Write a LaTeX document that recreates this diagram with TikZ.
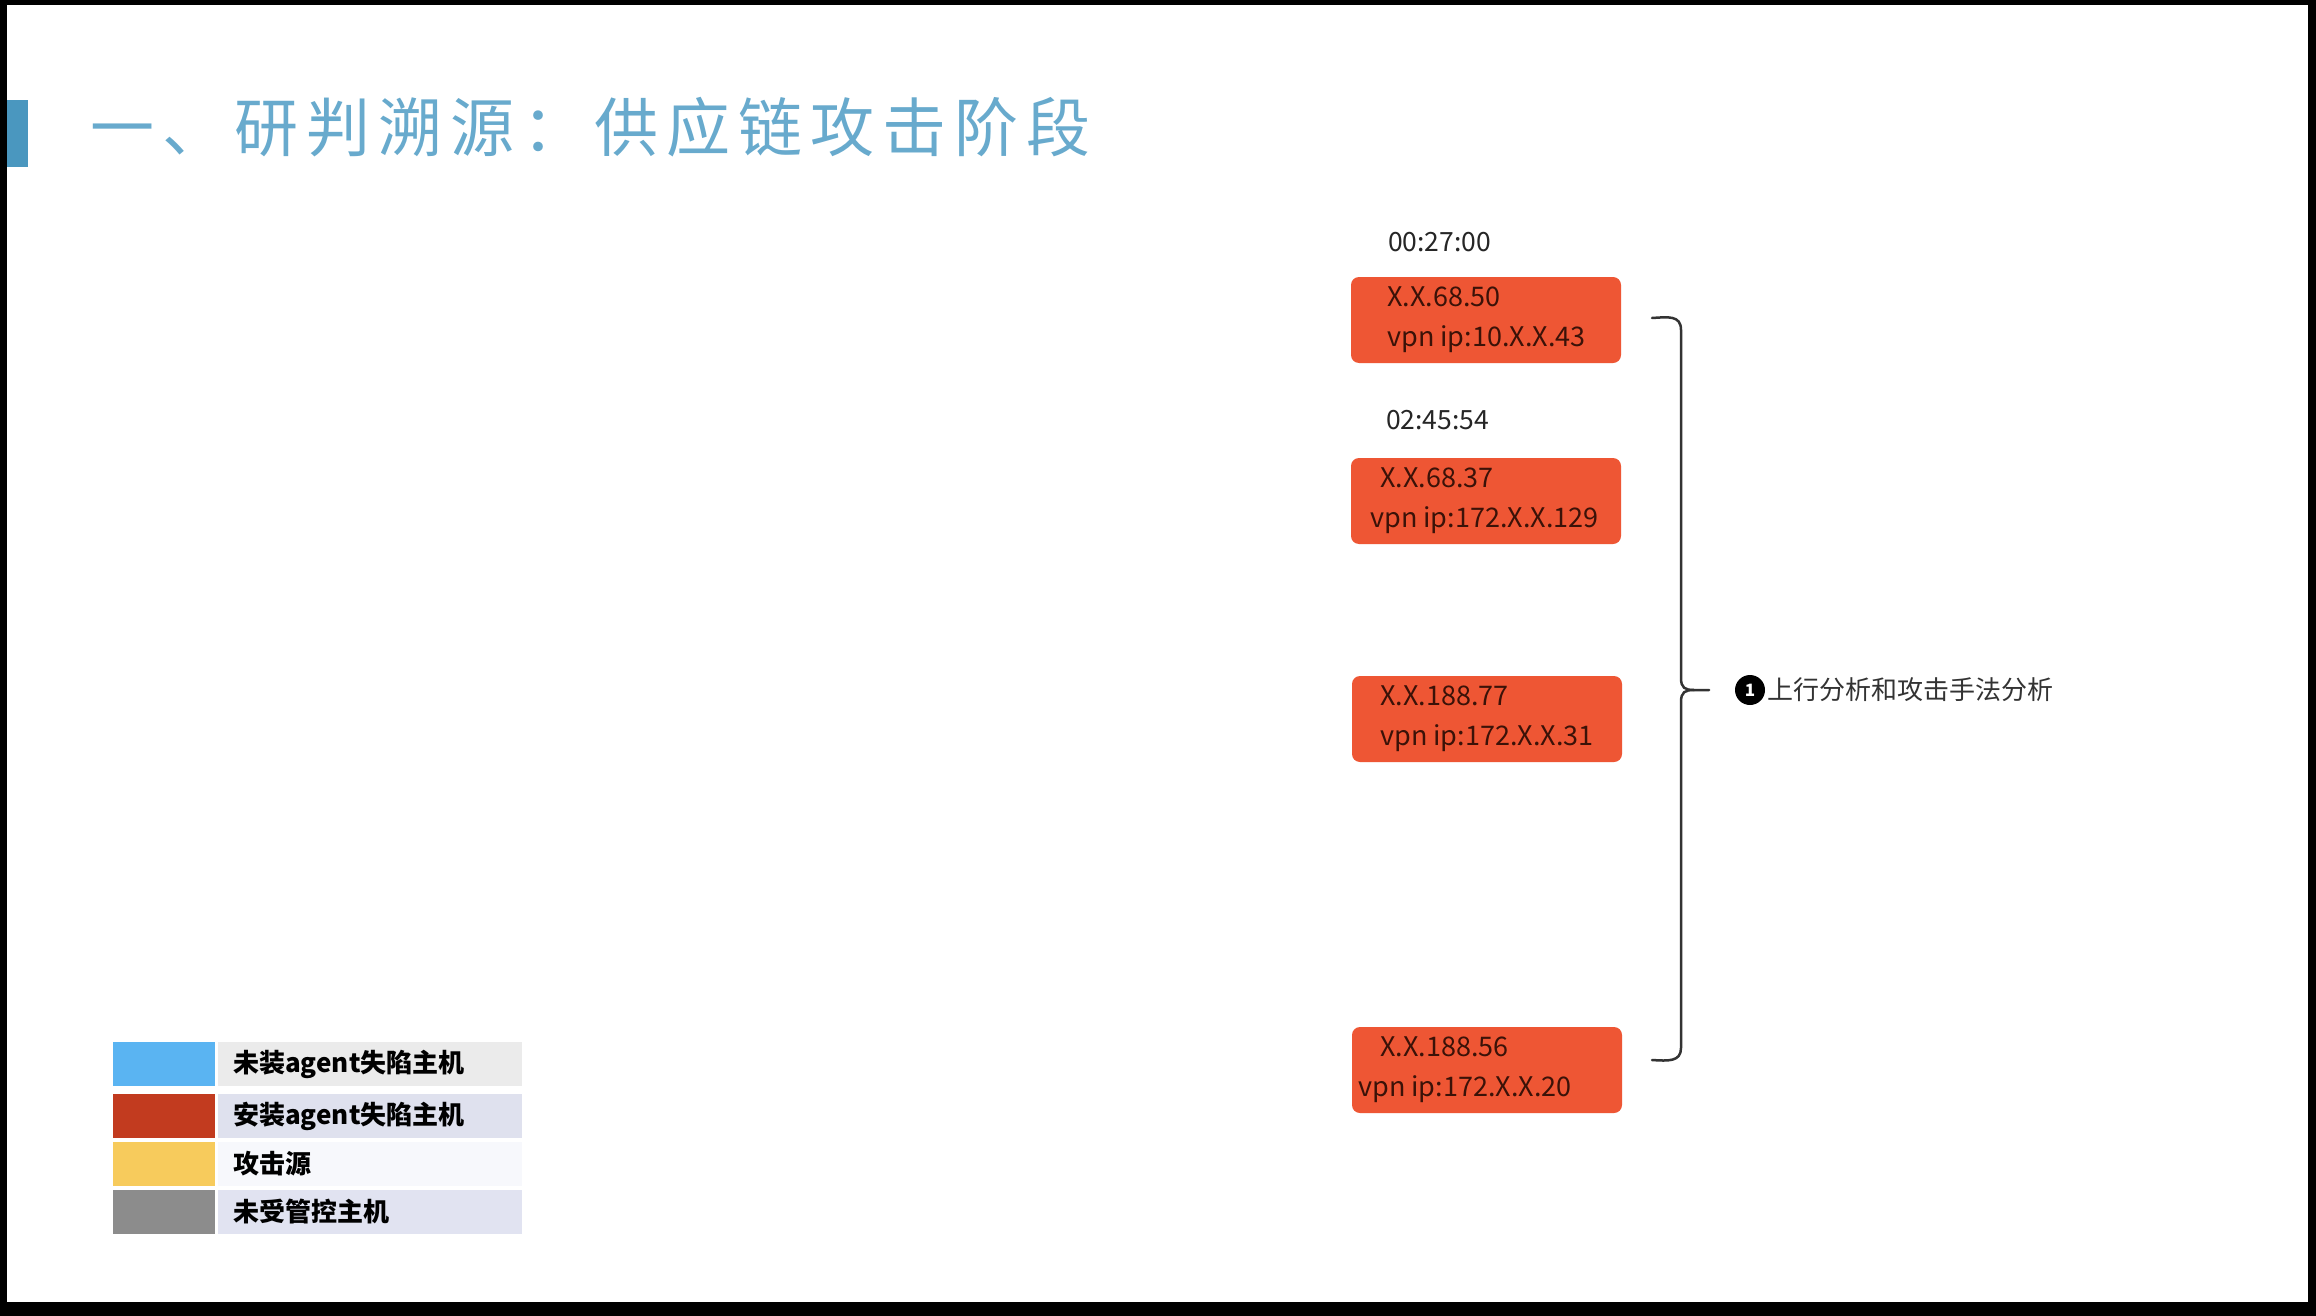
\documentclass[tikz,border=0pt]{standalone}
\usepackage{fontspec}
\setmainfont{Noto Sans CJK SC}
\newfontfamily\titlefont[LetterSpace=12.5]{Noto Sans CJK SC}
\usetikzlibrary{calc}
\definecolor{titleblue}{HTML}{68AACD}
\definecolor{barblue}{HTML}{4A97BF}
\definecolor{ipbox}{HTML}{EE5634}
\definecolor{iptext}{HTML}{3B1208}
\definecolor{swblue}{HTML}{5AB4F2}
\definecolor{swred}{HTML}{C23B1F}
\definecolor{swyellow}{HTML}{F7CB5C}
\definecolor{swgray}{HTML}{8C8C8C}
\definecolor{bgA}{HTML}{EBEBEB}
\definecolor{bgB}{HTML}{DFE1EE}
\definecolor{bgC}{HTML}{F7F8FC}
\definecolor{bgD}{HTML}{E1E3F1}
\begin{document}
\begin{tikzpicture}[x=1pt,y=-1pt,
  ipbox/.style={rectangle, rounded corners=8pt, fill=ipbox, minimum width=270pt, minimum height=86pt, inner sep=0pt},
  iplabel/.style={anchor=west, inner sep=0pt, align=left, text=iptext, font=\fontsize{27}{40}\selectfont},
  timelabel/.style={anchor=west, inner sep=0pt, text=black!85, font=\fontsize{26.5}{30}\selectfont},
  swatch/.style={rectangle, minimum width=102pt, minimum height=44pt, inner sep=0pt, anchor=north west},
  legbg/.style={rectangle, minimum width=304pt, minimum height=44pt, inner sep=0pt, anchor=north west},
  legtext/.style={anchor=west, inner sep=0pt, text=black, font=\fontsize{26}{30}\selectfont\bfseries},
  bracket/.style={draw=black!80, line width=2.5pt, line cap=round, line join=round}
]
% frame
\fill[black] (0,0) rectangle (2316,1316);
\fill[white] (7,5) rectangle (2308,1302);

% title
\fill[barblue] (7,100) rectangle (28,167);
\node[anchor=west, inner sep=0pt, text=titleblue, font=\titlefont\fontsize{64}{70}\selectfont] (title) at (90,127) {一、研判溯源：供应链攻击阶段};

% timestamps
\node[timelabel] (t1) at (1388,242) {00:27:00};
\node[timelabel] (t2) at (1386,420) {02:45:54};

% boxes
\node[ipbox] (b1) at (1486,320) {};
\node[ipbox] (b2) at (1486,501) {};
\node[ipbox] (b3) at (1487,719) {};
\node[ipbox] (b4) at (1487,1070) {};

\node[iplabel] (l1) at (1387,320) {X.X.68.50\\vpn ip:10.X.X.43};
\node[iplabel] (l2) at (1370,501) {\hspace*{10pt}X.X.68.37\\vpn ip:172.X.X.129};
\node[iplabel] (l3) at (1380,719) {X.X.188.77\\vpn ip:172.X.X.31};
\node[iplabel] (l4) at (1358,1070) {\hspace*{22pt}X.X.188.56\\vpn ip:172.X.X.20};

% bracket
\coordinate (btop) at (1652,318);
\coordinate (bbot) at (1652,1060);
\coordinate (bmid) at (1709,690);
\draw[bracket] (btop) .. controls (1668,317) and (1681,315) .. (1681,330)
  -- (1681,678) .. controls (1681,688) and (1685,690) .. (1694,690) -- (bmid);
\draw[bracket] (1694,690) .. controls (1685,690) and (1681,692) .. (1681,702)
  -- (1681,1048) .. controls (1681,1062) and (1668,1061) .. (bbot);

% label
\node[circle, fill=black, text=white, minimum size=30pt, inner sep=0pt, font=\fontsize{17}{17}\selectfont\bfseries] (num) at (1750,690) {1};
\node[anchor=west, inner sep=0pt, text=black!80, font=\fontsize{26}{30}\selectfont] (lab) at (1767,690) {上行分析和攻击手法分析};

% legend
\node[swatch, fill=swblue] (s1) at (113,1042) {};
\node[swatch, fill=swred] (s2) at (113,1094) {};
\node[swatch, fill=swyellow] (s3) at (113,1142) {};
\node[swatch, fill=swgray] (s4) at (113,1190) {};
\node[legbg, fill=bgA] (g1) at (218,1042) {};
\node[legbg, fill=bgB] (g2) at (218,1094) {};
\node[legbg, fill=bgC] (g3) at (218,1142) {};
\node[legbg, fill=bgD] (g4) at (218,1190) {};
\node[legtext] (e1) at (233,1064) {未装agent失陷主机};
\node[legtext] (e2) at (233,1116) {安装agent失陷主机};
\node[legtext] (e3) at (233,1164) {攻击源};
\node[legtext] (e4) at (233,1212) {未受管控主机};
\end{tikzpicture}
\end{document}
